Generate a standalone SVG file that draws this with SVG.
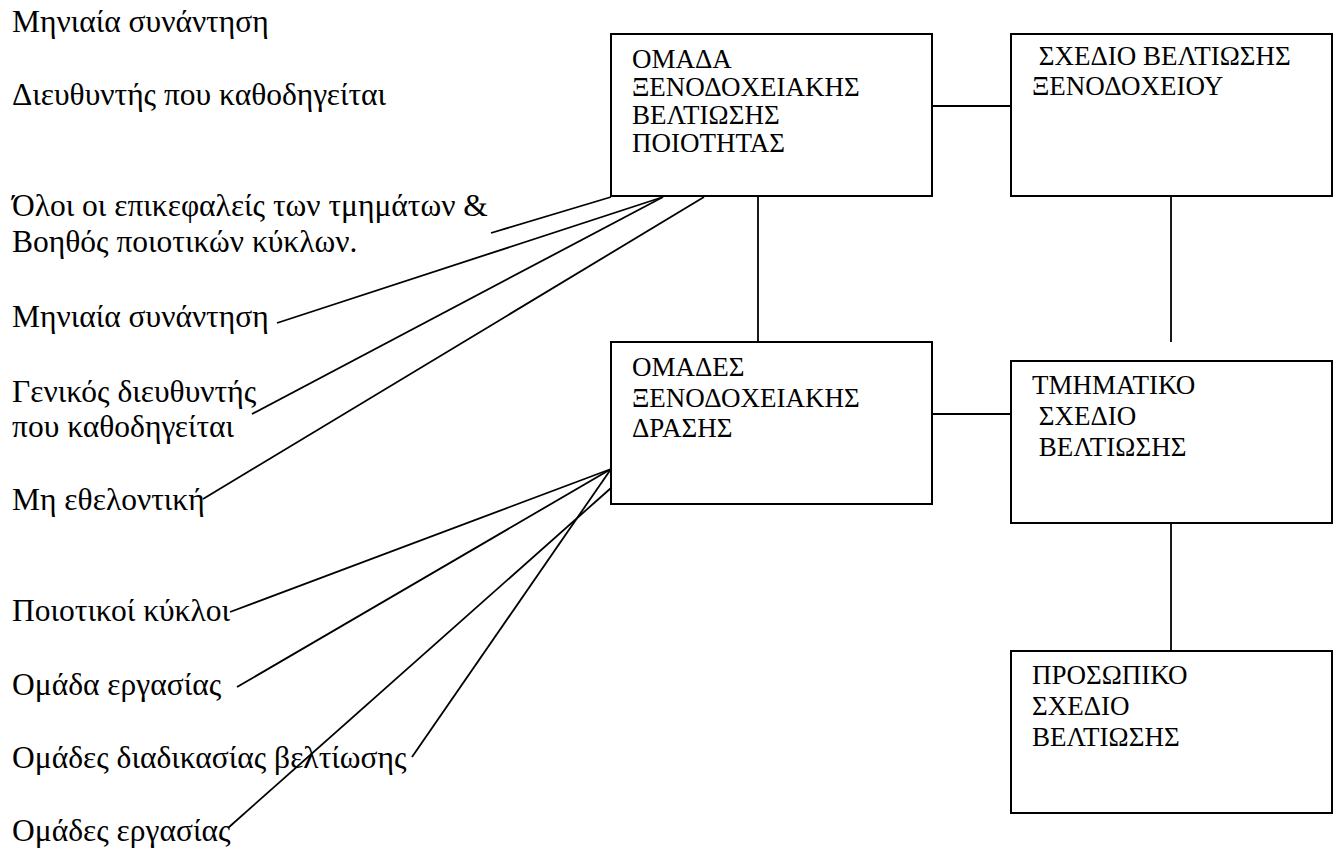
<svg xmlns="http://www.w3.org/2000/svg" width="1335" height="854" viewBox="0 0 1335 854">
  <style>
    .bg { fill: #ffffff; }
    .box { fill: #ffffff; stroke: #000000; stroke-width: 2; }
    .wire { fill: none; stroke: #000000; stroke-width: 1.8; }
    text { font-family: "Liberation Serif", "DejaVu Serif", serif; fill: #000000; }
    .note { font-size: 31.5px; }
    .label { font-size: 27px; }
  </style>
  <rect class="bg" x="0" y="0" width="1335" height="854"/>

  <!-- side notes -->
  <g id="notes" class="note">
    <text x="12" y="32">Μηνιαία συνάντηση</text>
    <text x="12" y="105">Διευθυντής που καθοδηγείται</text>
    <text x="12" y="216">Όλοι οι επικεφαλείς των τμημάτων &amp;</text>
    <text x="12" y="252">Βοηθός ποιοτικών κύκλων.</text>
    <text x="12" y="327">Μηνιαία συνάντηση</text>
    <text x="12" y="402">Γενικός διευθυντής</text>
    <text x="12" y="437">που καθοδηγείται</text>
    <text x="12" y="510">Μη εθελοντική</text>
    <text x="12" y="621">Ποιοτικοί κύκλοι</text>
    <text x="12" y="695">Ομάδα εργασίας</text>
    <text x="12" y="768">Ομάδες διαδικασίας βελτίωσης</text>
    <text x="12" y="841">Ομάδες εργασίας</text>
  </g>

  <!-- connectors -->
  <g id="connectors">
    <line class="wire" x1="932" y1="106" x2="1011" y2="106"/>
    <line class="wire" x1="758" y1="196" x2="758" y2="342"/>
    <line class="wire" x1="932" y1="414" x2="1011" y2="414"/>
    <line class="wire" x1="1171" y1="196" x2="1171" y2="342"/>
    <line class="wire" x1="1171" y1="505" x2="1171" y2="651"/>
    <line class="wire" x1="611" y1="197" x2="491" y2="233"/>
    <line class="wire" x1="663" y1="197" x2="277" y2="323"/>
    <line class="wire" x1="663" y1="197" x2="252" y2="414"/>
    <line class="wire" x1="704" y1="197" x2="203" y2="499"/>
    <line class="wire" x1="611" y1="469" x2="230" y2="612"/>
    <line class="wire" x1="611" y1="469" x2="237" y2="687"/>
    <line class="wire" x1="611" y1="469" x2="412" y2="757"/>
    <line class="wire" x1="611" y1="488" x2="228" y2="828"/>
  </g>

  <g id="quality-team" class="label">
    <rect class="box" x="611" y="34" width="321" height="162"/>
    <text x="632" y="68">ΟΜΑΔΑ</text>
    <text x="632" y="96">ΞΕΝΟΔΟΧΕΙΑΚΗΣ</text>
    <text x="632" y="124">ΒΕΛΤΙΩΣΗΣ</text>
    <text x="632" y="152">ΠΟΙΟΤΗΤΑΣ</text>
  </g>

  <g id="hotel-plan" class="label">
    <rect class="box" x="1011" y="34" width="321" height="162"/>
    <text x="1032" y="65" xml:space="preserve"> ΣΧΕΔΙΟ ΒΕΛΤΙΩΣΗΣ</text>
    <text x="1032" y="95">ΞΕΝΟΔΟΧΕΙΟΥ</text>
  </g>

  <g id="action-teams" class="label">
    <rect class="box" x="611" y="342" width="321" height="162"/>
    <text x="632" y="376">ΟΜΑΔΕΣ</text>
    <text x="632" y="407">ΞΕΝΟΔΟΧΕΙΑΚΗΣ</text>
    <text x="632" y="437">ΔΡΑΣΗΣ</text>
  </g>

  <g id="department-plan" class="label">
    <rect class="box" x="1011" y="361" width="321" height="162"/>
    <text x="1032" y="394">ΤΜΗΜΑΤΙΚΟ</text>
    <text x="1032" y="425" xml:space="preserve"> ΣΧΕΔΙΟ</text>
    <text x="1032" y="456" xml:space="preserve"> ΒΕΛΤΙΩΣΗΣ</text>
  </g>

  <g id="personal-plan" class="label">
    <rect class="box" x="1011" y="651" width="321" height="162"/>
    <text x="1032" y="684">ΠΡΟΣΩΠΙΚΟ</text>
    <text x="1032" y="715">ΣΧΕΔΙΟ</text>
    <text x="1032" y="746">ΒΕΛΤΙΩΣΗΣ</text>
  </g>
</svg>
